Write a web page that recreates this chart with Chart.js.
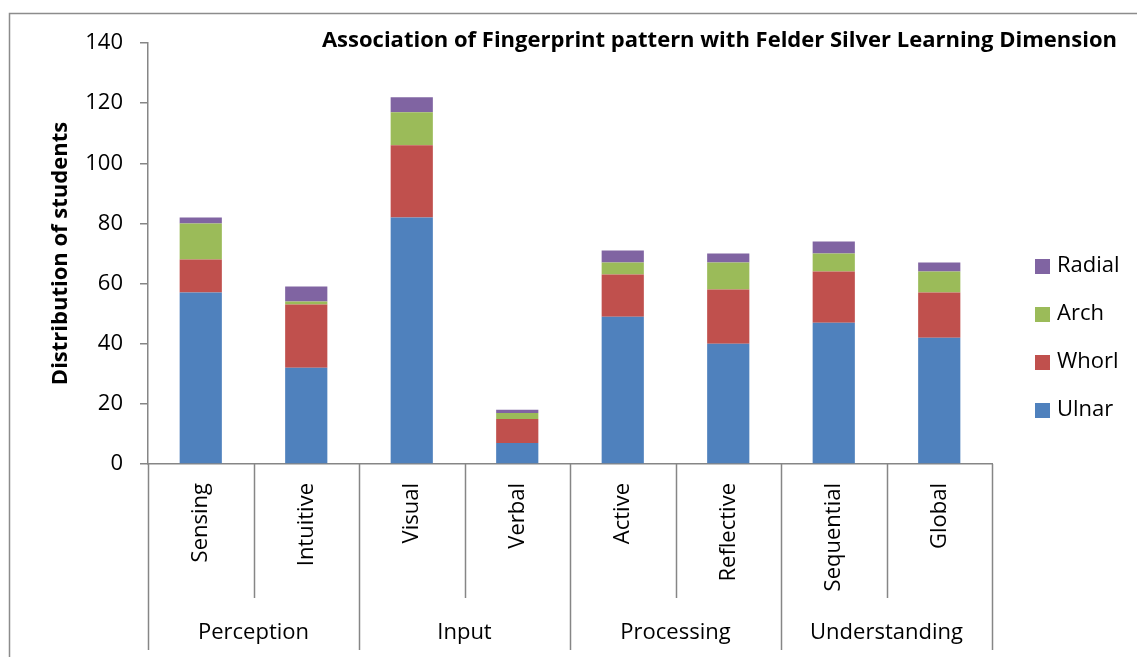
<!DOCTYPE html>
<html>
<head>
<meta charset="utf-8">
<script src="https://cdn.jsdelivr.net/npm/chart.js@4.4.0/dist/chart.umd.min.js"></script>
<style>
  html, body { margin: 0; padding: 0; background: #fff; }
  #wrap { width: 1137px; height: 657px; }
</style>
</head>
<body>
<div id="wrap"><canvas id="myChart" width="1137" height="657"></canvas></div>
<script>
// learning style categories and their dimension groups
let categories = ['Sensing', 'Intuitive', 'Visual', 'Verbal', 'Active', 'Reflective', 'Sequential', 'Global'];
let groups = ['Perception', 'Input', 'Processing', 'Understanding'];

// students per fingerprint pattern
let ulnar  = [57, 32, 82, 7, 49, 40, 47, 42];
let whorl  = [11, 21, 24, 8, 14, 18, 17, 15];
let arch   = [12, 1, 11, 2, 4, 9, 6, 7];
let radial = [2, 5, 5, 1, 4, 3, 4, 3];

let yTicks = [0, 20, 40, 60, 80, 100, 120, 140];

let colors = ['#4F81BD', '#C0504D', '#9BBB59', '#8064A2'];
let axisColor = '#868686';
let fontName = "'Open Sans', sans-serif";

// frame, title, category separators, group labels, legend
const extras = {
  id: 'extras',
  afterDraw(chart) {
    const ctx = chart.ctx;
    const x = chart.scales.x;
    const area = chart.chartArea;
    ctx.save();

    // outer frame (only top and left show)
    ctx.strokeStyle = '#8c8c8c';
    ctx.lineWidth = 1.5;
    ctx.beginPath();
    ctx.moveTo(9.5, 657);
    ctx.lineTo(9.5, 13.5);
    ctx.lineTo(1137, 13.5);
    ctx.stroke();

    // separators under the category axis
    ctx.strokeStyle = axisColor;
    ctx.lineWidth = 1.5;
    let step = (area.right - area.left) / categories.length;
    for (let i = 0; i <= categories.length; i++) {
      let bx = Math.round(area.left + i * step) + 0.5;
      ctx.beginPath();
      ctx.moveTo(bx, area.bottom);
      ctx.lineTo(bx, i % 2 == 0 ? 650 : 598);
      ctx.stroke();
    }

    // group labels
    ctx.fillStyle = '#000';
    ctx.font = '22px ' + fontName;
    ctx.textAlign = 'center';
    ctx.textBaseline = 'middle';
    groups.forEach((g, i) => {
      let cx = (x.getPixelForValue(i * 2) + x.getPixelForValue(i * 2 + 1)) / 2;
      ctx.fillText(g, cx, 633);
    });

    // title
    ctx.font = 'bold 22px ' + fontName;
    ctx.textAlign = 'right';
    ctx.fillText('Association of Fingerprint pattern with Felder Silver Learning Dimension', 1117, 41);

    // legend, reversed order
    ctx.font = '22px ' + fontName;
    ctx.textAlign = 'left';
    let ds = chart.data.datasets.slice().reverse();
    ds.forEach((d, i) => {
      let ly = 266 + i * 48;
      ctx.fillStyle = d.backgroundColor;
      ctx.fillRect(1035, ly - 7, 15, 15);
      ctx.fillStyle = '#000';
      ctx.fillText(d.label, 1057, ly);
    });
    ctx.restore();
  }
};

const data = {
  labels: categories,
  datasets: [
    { label: 'Ulnar', data: ulnar, backgroundColor: colors[0] },
    { label: 'Whorl', data: whorl, backgroundColor: colors[1] },
    { label: 'Arch', data: arch, backgroundColor: colors[2] },
    { label: 'Radial', data: radial, backgroundColor: colors[3] }
  ]
};

const config = {
  type: 'bar',
  data: data,
  options: {
    responsive: false,
    animation: false,
    barPercentage: 0.4,
    categoryPercentage: 1.0,
    layout: {
      padding: { left: 44, top: 43, right: 145, bottom: 0 }
    },
    plugins: {
      legend: { display: false },
      tooltip: { enabled: false }
    },
    scales: {
      x: {
        stacked: true,
        afterFit: s => { s.height = 193; },
        grid: { display: false, drawTicks: false },
        border: { display: true, color: axisColor, width: 1.5 },
        ticks: {
          minRotation: 90,
          maxRotation: 90,
          padding: 19,
          color: '#000',
          font: { family: fontName, size: 22 }
        }
      },
      y: {
        stacked: true,
        min: 0,
        max: 140,
        afterFit: s => { s.width = 104; },
        afterBuildTicks: s => { s.ticks = yTicks.map(v => ({ value: v })); },
        grid: { drawOnChartArea: false, drawTicks: true, tickLength: 8, color: axisColor, lineWidth: 1.5 },
        border: { display: true, color: axisColor, width: 1.5 },
        ticks: {
          padding: 17,
          color: '#000',
          font: { family: fontName, size: 22 }
        },
        title: {
          display: true,
          text: 'Distribution of students',
          color: '#000',
          font: { family: fontName, size: 22, weight: 'bold' }
        }
      }
    }
  },
  plugins: [extras]
};

var ctx = document.getElementById('myChart');
var mychart = new Chart(ctx, config);
</script>
</body>
</html>
